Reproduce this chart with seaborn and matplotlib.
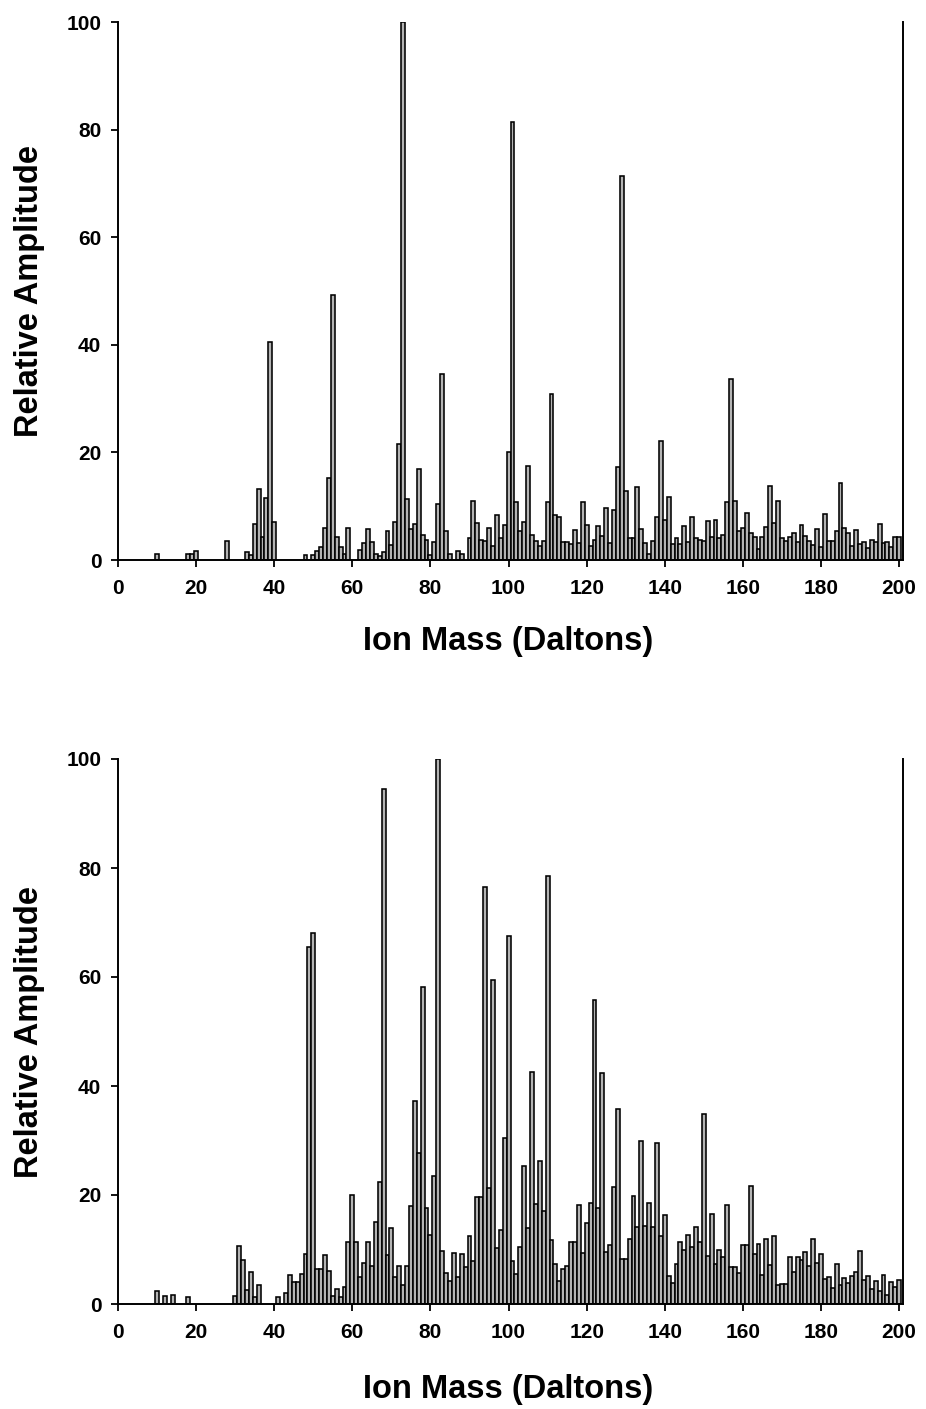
import matplotlib
matplotlib.use("Agg")
import matplotlib.pyplot as plt
import seaborn as sns
import pandas as pd

# ---- Spectrum 1 (upper panel): ion mass (Da) and relative amplitude ----
upper_mass = [10, 18, 19, 20, 28,
              33, 34, 35, 36, 37, 38, 39, 40,
              48, 50, 51, 52, 53, 54, 55, 56, 57, 58, 59,
              62, 63, 64, 65, 66, 67, 68, 69, 70,
              71, 72, 73, 74, 75, 76, 77, 78, 79, 80,
              81, 82, 83, 84, 85, 87, 88, 90,
              91, 92, 93, 94, 95, 96, 97, 98, 99, 100,
              101, 102, 103, 104, 105, 106, 107, 108, 109, 110,
              111, 112, 113, 114, 115, 116, 117, 118, 119, 120,
              121, 122, 123, 124, 125, 126, 127, 128, 129, 130,
              131, 132, 133, 134, 135, 136, 137, 138, 139, 140,
              141, 142, 143, 144, 145, 146, 147, 148, 149, 150,
              151, 152, 153, 154, 155, 156, 157, 158, 159, 160,
              161, 162, 163, 164, 165, 166, 167, 168, 169, 170,
              171, 172, 173, 174, 175, 176, 177, 178, 179, 180,
              181, 182, 183, 184, 185, 186, 187, 188, 189, 190,
              191, 192, 193, 194, 195, 196, 197, 198, 199, 200]
upper_amp = [1.2, 1.1, 1.1, 1.7, 3.6,
             1.5, 1.0, 6.7, 13.2, 4.3, 11.5, 40.5, 7.1,
             1.0, 1.0, 1.7, 2.5, 5.9, 15.2, 49.3, 4.3, 2.5, 1.2, 5.9,
             1.9, 3.2, 5.7, 3.4, 1.2, 0.8, 1.4, 5.3, 2.8,
             7.1, 21.6, 100.0, 11.3, 5.7, 6.7, 17.0, 4.6, 3.7, 1.0,
             3.4, 10.5, 34.6, 5.3, 1.2, 1.7, 1.1, 4.0,
             11.0, 6.8, 3.7, 3.6, 5.9, 2.6, 8.4, 4.0, 6.5, 20.0,
             81.4, 10.7, 5.3, 7.1, 17.5, 4.6, 3.6, 2.6, 3.6, 10.8,
             30.9, 8.4, 7.9, 3.4, 3.4, 3.0, 5.6, 3.2, 10.7, 6.5,
             2.6, 3.8, 6.3, 4.5, 9.6, 3.1, 9.3, 17.2, 71.4, 12.9,
             4.0, 4.0, 13.5, 5.7, 3.2, 1.2, 3.6, 8.0, 22.1, 7.4,
             11.8, 3.0, 4.0, 3.0, 6.3, 3.4, 7.9, 4.0, 3.8, 3.6,
             7.3, 4.3, 7.4, 4.0, 4.6, 10.7, 33.6, 11.0, 5.3, 5.9,
             8.7, 5.1, 4.3, 2.0, 4.2, 6.2, 13.8, 6.8, 11.0, 4.0,
             3.6, 4.3, 5.1, 3.4, 6.5, 4.5, 3.6, 2.8, 5.7, 2.5,
             8.5, 3.6, 3.6, 5.3, 14.4, 5.9, 5.0, 2.6, 5.5, 3.0,
             3.4, 2.2, 3.8, 3.4, 6.7, 3.2, 3.4, 2.5, 4.2, 4.2]

# ---- Spectrum 2 (lower panel) ----
lower_mass = [10, 12, 14, 18,
              30, 31, 32, 33, 34, 35, 36,
              41, 43, 44, 45, 46, 47, 48, 49, 50,
              51, 52, 53, 54, 55, 56, 57, 58, 59, 60,
              61, 62, 63, 64, 65, 66, 67, 68, 69, 70,
              71, 72, 73, 74, 75, 76, 77, 78, 79, 80,
              81, 82, 83, 84, 85, 86, 87, 88, 89, 90,
              91, 92, 93, 94, 95, 96, 97, 98, 99, 100,
              101, 102, 103, 104, 105, 106, 107, 108, 109, 110,
              111, 112, 113, 114, 115, 116, 117, 118, 119, 120,
              121, 122, 123, 124, 125, 126, 127, 128, 129, 130,
              131, 132, 133, 134, 135, 136, 137, 138, 139, 140,
              141, 142, 143, 144, 145, 146, 147, 148, 149, 150,
              151, 152, 153, 154, 155, 156, 157, 158, 159, 160,
              161, 162, 163, 164, 165, 166, 167, 168, 169, 170,
              171, 172, 173, 174, 175, 176, 177, 178, 179, 180,
              181, 182, 183, 184, 185, 186, 187, 188, 189, 190,
              191, 192, 193, 194, 195, 196, 197, 198, 199, 200]
lower_amp = [2.3, 1.5, 1.6, 1.2,
             1.5, 10.7, 8.0, 2.6, 5.8, 1.3, 3.5,
             1.2, 2.0, 5.3, 4.1, 4.1, 5.5, 9.2, 65.5, 68.0,
             6.5, 6.5, 9.0, 6.1, 1.5, 2.7, 1.2, 3.2, 11.3, 20.0,
             11.4, 5.0, 7.5, 11.3, 6.9, 15.1, 22.4, 94.5, 9.0, 13.9,
             5.0, 6.9, 3.5, 6.9, 18.0, 37.2, 27.7, 58.2, 17.7, 12.7,
             23.5, 100.0, 9.8, 5.7, 4.3, 9.3, 5.0, 9.2, 6.7, 12.5,
             7.8, 19.6, 19.6, 76.5, 21.2, 59.4, 10.2, 13.5, 30.5, 67.5,
             7.8, 5.5, 10.4, 25.4, 13.9, 42.6, 18.3, 26.2, 17.1, 78.5,
             11.7, 7.3, 4.3, 6.4, 7.0, 11.3, 11.3, 18.2, 9.3, 14.9,
             18.6, 55.8, 17.7, 42.4, 9.6, 10.8, 21.4, 35.8, 8.2, 8.2,
             11.9, 19.8, 14.1, 29.9, 14.3, 18.5, 14.1, 29.5, 12.4, 16.3,
             5.1, 3.9, 7.3, 11.3, 10.0, 12.7, 10.5, 14.2, 11.3, 34.9,
             8.8, 16.6, 7.3, 10.0, 8.7, 18.2, 6.7, 6.7, 5.6, 10.8,
             10.8, 21.7, 9.2, 11.1, 5.3, 11.9, 7.2, 12.4, 3.5, 3.7,
             3.7, 8.6, 5.9, 8.6, 8.0, 9.6, 6.9, 12.0, 7.5, 9.2,
             4.5, 4.9, 2.9, 7.3, 3.5, 4.7, 3.9, 5.1, 5.9, 9.8,
             4.4, 5.1, 2.7, 4.3, 2.4, 5.3, 1.7, 4.1, 3.2, 4.4]

x_ticks = [0, 20, 40, 60, 80, 100, 120, 140, 160, 180, 200]
y_ticks = [0, 20, 40, 60, 80, 100]
x_label = "Ion Mass (Daltons)"
y_label = "Relative Amplitude"

sns.set_style("ticks")
plt.rcParams["font.family"] = ["Liberation Sans", "DejaVu Sans"]
plt.rcParams["font.weight"] = "bold"
for key in ("text.color", "axes.labelcolor", "xtick.color", "ytick.color",
            "axes.edgecolor"):
    plt.rcParams[key] = "black"

fig = plt.figure(figsize=(9.26, 14.09), dpi=100)
W, H = 926.0, 1409.0
# each panel: data plus its plot-area box (left, top, right, bottom) in pixels
# and the distance from the x axis to the top of the x label
panels = [
    (upper_mass, upper_amp, (118, 22, 903, 560), 66),
    (lower_mass, lower_amp, (118, 759, 903, 1304), 70),
]

for mass, amp, (l, t, r, b), xlab_gap in panels:
    ax = fig.add_axes([l / W, 1 - b / H, (r - l) / W, (b - t) / H])
    df = pd.DataFrame({"mass": mass, "amp": amp})
    sns.barplot(data=df, x="mass", y="amp", native_scale=True, width=1.0,
                errorbar=None, color="#b4b4b4", edgecolor="black",
                linewidth=1.15, saturation=1, ax=ax)
    ax.set_xlim(0, 201)
    ax.set_ylim(0, 100)
    ax.set_xticks(x_ticks)
    ax.set_yticks(y_ticks)
    ax.set_xticklabels([str(v) for v in x_ticks], fontsize=15, fontweight="bold")
    ax.set_yticklabels([str(v) for v in y_ticks], fontsize=15, fontweight="bold")
    ax.tick_params(axis="both", direction="out", length=5, width=1.3,
                   color="black", labelcolor="black")
    ax.tick_params(axis="x", pad=9)
    ax.tick_params(axis="y", pad=7)
    for side in ("left", "bottom", "right"):
        ax.spines[side].set_visible(True)
        ax.spines[side].set_linewidth(1.4)
        ax.spines[side].set_color("black")
    ax.spines["top"].set_visible(False)
    ax.set_xlabel(x_label, fontsize=23.5, fontweight="bold", color="black")
    ax.set_ylabel(y_label, fontsize=23.5, fontweight="bold", color="black")
    ax.xaxis.set_label_coords(0.497, -xlab_gap / (b - t))
    ax.yaxis.set_label_coords(-73.0 / (r - l), 0.5)
    ax.set_facecolor("white")

fig.savefig("out.png", dpi=100, facecolor="white")
